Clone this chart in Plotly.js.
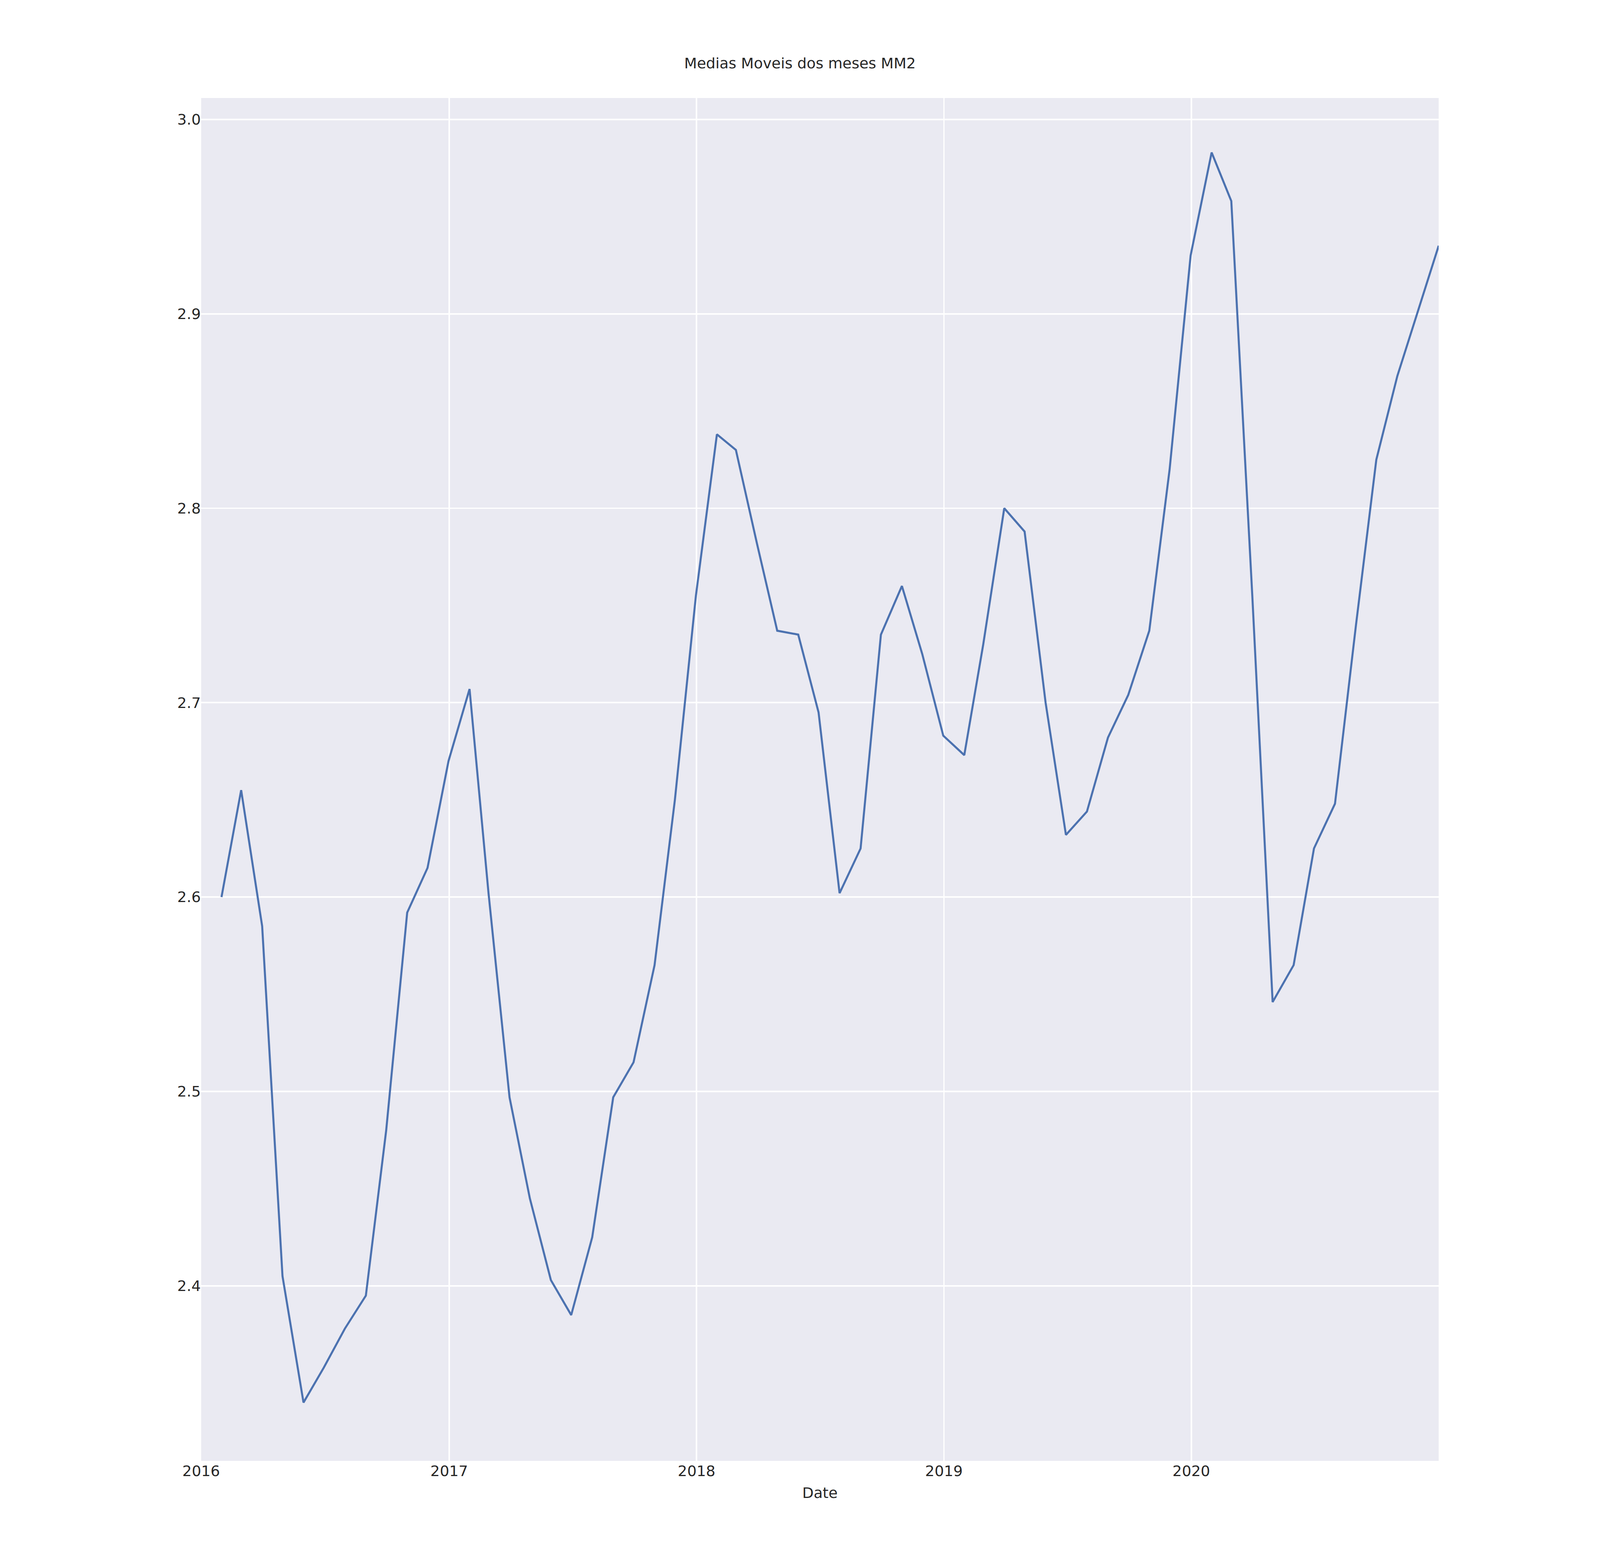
<!DOCTYPE html>
<html>
<head>
<meta charset="utf-8">
<script src="https://cdn.plot.ly/plotly-3.0.1.min.js"></script>
<style>html,body{margin:0;padding:0;background:#fff;overflow:hidden;}#chart{width:100vw;height:100vh;}</style>
</head>
<body>
<div id="chart"></div>
<script>
const months = [
  '2016-01-31','2016-02-29','2016-03-31','2016-04-30','2016-05-31','2016-06-30',
  '2016-07-31','2016-08-31','2016-09-30','2016-10-31','2016-11-30','2016-12-31',
  '2017-01-31','2017-02-28','2017-03-31','2017-04-30','2017-05-31','2017-06-30',
  '2017-07-31','2017-08-31','2017-09-30','2017-10-31','2017-11-30','2017-12-31',
  '2018-01-31','2018-02-28','2018-03-31','2018-04-30','2018-05-31','2018-06-30',
  '2018-07-31','2018-08-31','2018-09-30','2018-10-31','2018-11-30','2018-12-31',
  '2019-01-31','2019-02-28','2019-03-31','2019-04-30','2019-05-31','2019-06-30',
  '2019-07-31','2019-08-31','2019-09-30','2019-10-31','2019-11-30','2019-12-31',
  '2020-01-31','2020-02-29','2020-03-31','2020-04-30','2020-05-31','2020-06-30',
  '2020-07-31','2020-08-31','2020-09-30','2020-10-31','2020-11-30','2020-12-31'
];
const mm2 = [
  2.600, 2.655, 2.585, 2.405, 2.340, 2.358, 2.378, 2.395, 2.480, 2.592, 2.615, 2.670,
  2.707, 2.602, 2.497, 2.445, 2.403, 2.385, 2.425, 2.497, 2.515, 2.565, 2.650, 2.755,
  2.838, 2.830, 2.782, 2.737, 2.735, 2.695, 2.602, 2.625, 2.735, 2.760, 2.725, 2.683,
  2.673, 2.730, 2.800, 2.788, 2.700, 2.632, 2.644, 2.682, 2.704, 2.737, 2.820, 2.930,
  2.983, 2.958, 2.755, 2.546, 2.565, 2.625, 2.648, 2.740, 2.825, 2.868, 2.935
];
const dates = months.slice(0, 58).concat(['2020-12-31']);

const W = window.innerWidth, H = window.innerHeight;
const s = W / 1568; // reference sized at 1568x784

const trace = {
  x: dates,
  y: mm2,
  type: 'scatter',
  mode: 'lines',
  line: {color: '#4c72b0', width: 2 * s}
};

const txt = {family: 'DejaVu Sans', size: 14.5 * s, color: '#262626'};
const layout = {
  width: W, height: H,
  paper_bgcolor: '#ffffff',
  plot_bgcolor: '#eaeaf2',
  margin: {l: 197 * s, r: 158 * s, t: 96 * s, b: 99 * s},
  font: txt,
  showlegend: false,
  title: {text: 'Medias Moveis dos meses MM2', font: txt, x: 0.5, xanchor: 'center',
          y: 1 - 62 * s / H, yanchor: 'middle'},
  xaxis: {
    type: 'date',
    range: ['2016-01-01', '2020-12-31'],
    tickvals: ['2016-01-01', '2017-01-01', '2018-01-01', '2019-01-01', '2020-01-01'],
    ticktext: ['2016', '2017', '2018', '2019', '2020'],
    showgrid: true, gridcolor: '#ffffff', gridwidth: 1.5 * s,
    zeroline: false, showline: false, ticks: '',
    ticklabelstandoff: 14 * s,
    title: {text: 'Date', font: txt, standoff: 8 * s}
  },
  yaxis: {
    range: [2.31, 3.011],
    tickvals: [2.4, 2.5, 2.6, 2.7, 2.8, 2.9, 3.0],
    ticktext: ['2.4', '2.5', '2.6', '2.7', '2.8', '2.9', '3.0'],
    showgrid: true, gridcolor: '#ffffff', gridwidth: 1.5 * s,
    zeroline: false, showline: false, ticks: '',
    ticklabelstandoff: 12 * s
  }
};

Plotly.newPlot('chart', [trace], layout, {staticPlot: true});
</script>
</body>
</html>
